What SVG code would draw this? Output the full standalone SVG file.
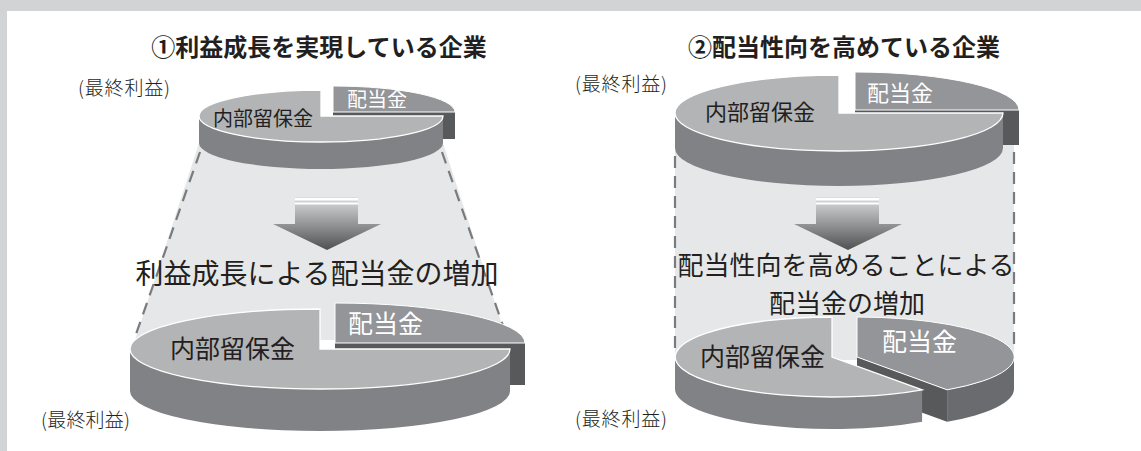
<svg xmlns="http://www.w3.org/2000/svg" width="1141" height="451" viewBox="0 0 1141 451">
<style>
text{font-family:"Noto Sans CJK JP","Noto Sans",sans-serif;fill:#231f20}
.title{font-size:24px;font-weight:bold}
.lbl{font-size:19px;font-weight:300}
.big{font-size:28px}
.big2{font-size:26px}
.wt{fill:#ffffff}
.rtop{fill:#b3b4b6;stroke:#ffffff;stroke-width:1.3}
.rside{fill:#808285}
.dtop{fill:#939598;stroke:#ffffff;stroke-width:1}
.dcut{fill:#58595b}
.dside{fill:#6a6b6e}
.band{fill:#e6e7e8}
.dash{stroke:#7a7b7e;stroke-width:2.2;stroke-dasharray:12 8;fill:none}
</style>
<defs>
<linearGradient id="ag" x1="0" y1="197" x2="0" y2="250" gradientUnits="userSpaceOnUse">
<stop offset="0" stop-color="#dcdddf"/>
<stop offset="1" stop-color="#4f5052"/>
</linearGradient>
</defs>
<rect x="0" y="0" width="1141" height="451" fill="#d1d3d4"/>
<rect x="7" y="11" width="1134" height="440" fill="#ffffff"/>

<g id="title1"><text class="title" x="319" y="56" text-anchor="middle">①利益成長を実現している企業</text></g>
<g id="title2"><text class="title" x="844" y="56" text-anchor="middle">②配当性向を高めている企業</text></g>

<g id="connectors">
<polygon class="band" points="200,140 442,140 507,340 135,340"/>
<rect class="band" x="675" y="140" width="339" height="220"/>
<line class="dash" x1="200" y1="152" x2="135" y2="337"/>
<line class="dash" x1="442" y1="152" x2="507" y2="337"/>
<line class="dash" x1="675" y1="156" x2="675" y2="352"/>
<line class="dash" x1="1014" y1="152" x2="1014" y2="352"/>
</g>

<g id="pie-top-left">
<rect class="dcut" x="333" y="112" width="122" height="27"/>
<path class="dtop" d="M333,112 L333,86 A122 26 0 0 1 455,112 Z"/>
<path class="rside" d="M199,116 A122 26 0 0 0 443,116 L443,143 A122 26 0 0 1 199,143 Z"/>
<path class="rtop" d="M321,116 L321,90 A122 26 0 1 0 443,116 Z"/>
<text x="213" y="126" style="font-size:20px">内部留保金</text>
<text class="wt" x="347" y="107" style="font-size:20px">配当金</text>
</g>

<g id="pie-bottom-left">
<rect class="dcut" x="335" y="343" width="190" height="42"/>
<path class="dtop" d="M335,343 L335,303 A190 40 0 0 1 525,343 Z"/>
<path class="rside" d="M130,349 A190 40 0 0 0 510,349 L510,391 A190 40 0 0 1 130,391 Z"/>
<path class="rtop" d="M320,349 L320,309 A190 40 0 1 0 510,349 Z"/>
<text x="170" y="358" style="font-size:25px">内部留保金</text>
<text class="wt" x="348" y="333" style="font-size:25px">配当金</text>
</g>

<g id="pie-top-right">
<rect class="dcut" x="855" y="110" width="164" height="35"/>
<path class="dtop" d="M855,110 L855,72 A164 38 0 0 1 1019,110 Z"/>
<path class="rside" d="M675,113 A164 38 0 0 0 1003,113 L1003,148 A164 38 0 0 1 675,148 Z"/>
<path class="rtop" d="M839,113 L839,75 A164 38 0 1 0 1003,113 Z"/>
<text x="705" y="120" style="font-size:22px">内部留保金</text>
<text class="wt" x="867" y="101" style="font-size:22px">配当金</text>
</g>

<g id="pie-bottom-right">
<path class="dcut" d="M857,357 L947.1,389.8 L947.1,421.8 L857,389 Z"/>
<path class="dside" d="M1014,357 A157 40 0 0 1 947.1,389.8 L947.1,421.8 A157 40 0 0 0 1014,389 Z"/>
<path class="dtop" d="M857,357 L857,317 A157 40 0 0 1 947.1,389.8 Z"/>
<path class="rside" d="M675,357 A157 40 0 0 0 922.1,389.8 L922.1,421.8 A157 40 0 0 1 675,389 Z"/>
<path class="rtop" d="M832,357 L832,317 A157 40 0 1 0 922.1,389.8 Z"/>
<text x="700" y="366" style="font-size:25px">内部留保金</text>
<text class="wt" x="882" y="351" style="font-size:25px">配当金</text>
</g>

<g id="arrow-left">
<path fill="url(#ag)" d="M295,197 L358,197 L358,224 L381,224 L327,250 L273,224 L295,224 Z"/>
<rect x="295" y="198" width="63" height="2.5" fill="#ffffff"/>
<rect x="295" y="202.5" width="63" height="2" fill="#ffffff"/>
</g>
<g id="arrow-right">
<path fill="url(#ag)" d="M816,197 L879,197 L879,224 L902,224 L848,250 L794,224 L816,224 Z"/>
<rect x="816" y="198" width="63" height="2.5" fill="#ffffff"/>
<rect x="816" y="202.5" width="63" height="2" fill="#ffffff"/>
</g>

<g id="label-left-result"><text class="big" x="317" y="284" text-anchor="middle">利益成長による配当金の増加</text></g>
<g id="label-right-result">
<text class="big2" x="846" y="275" text-anchor="middle">配当性向を高めることによる</text>
<text class="big2" x="847" y="313" text-anchor="middle">配当金の増加</text>
</g>

<g id="profit-labels">
<text class="lbl" x="78" y="95" textLength="92">(最終利益)</text>
<text class="lbl" x="41" y="427" textLength="89">(最終利益)</text>
<text class="lbl" x="575" y="91" textLength="92">(最終利益)</text>
<text class="lbl" x="575" y="426" textLength="92">(最終利益)</text>
</g>
</svg>
